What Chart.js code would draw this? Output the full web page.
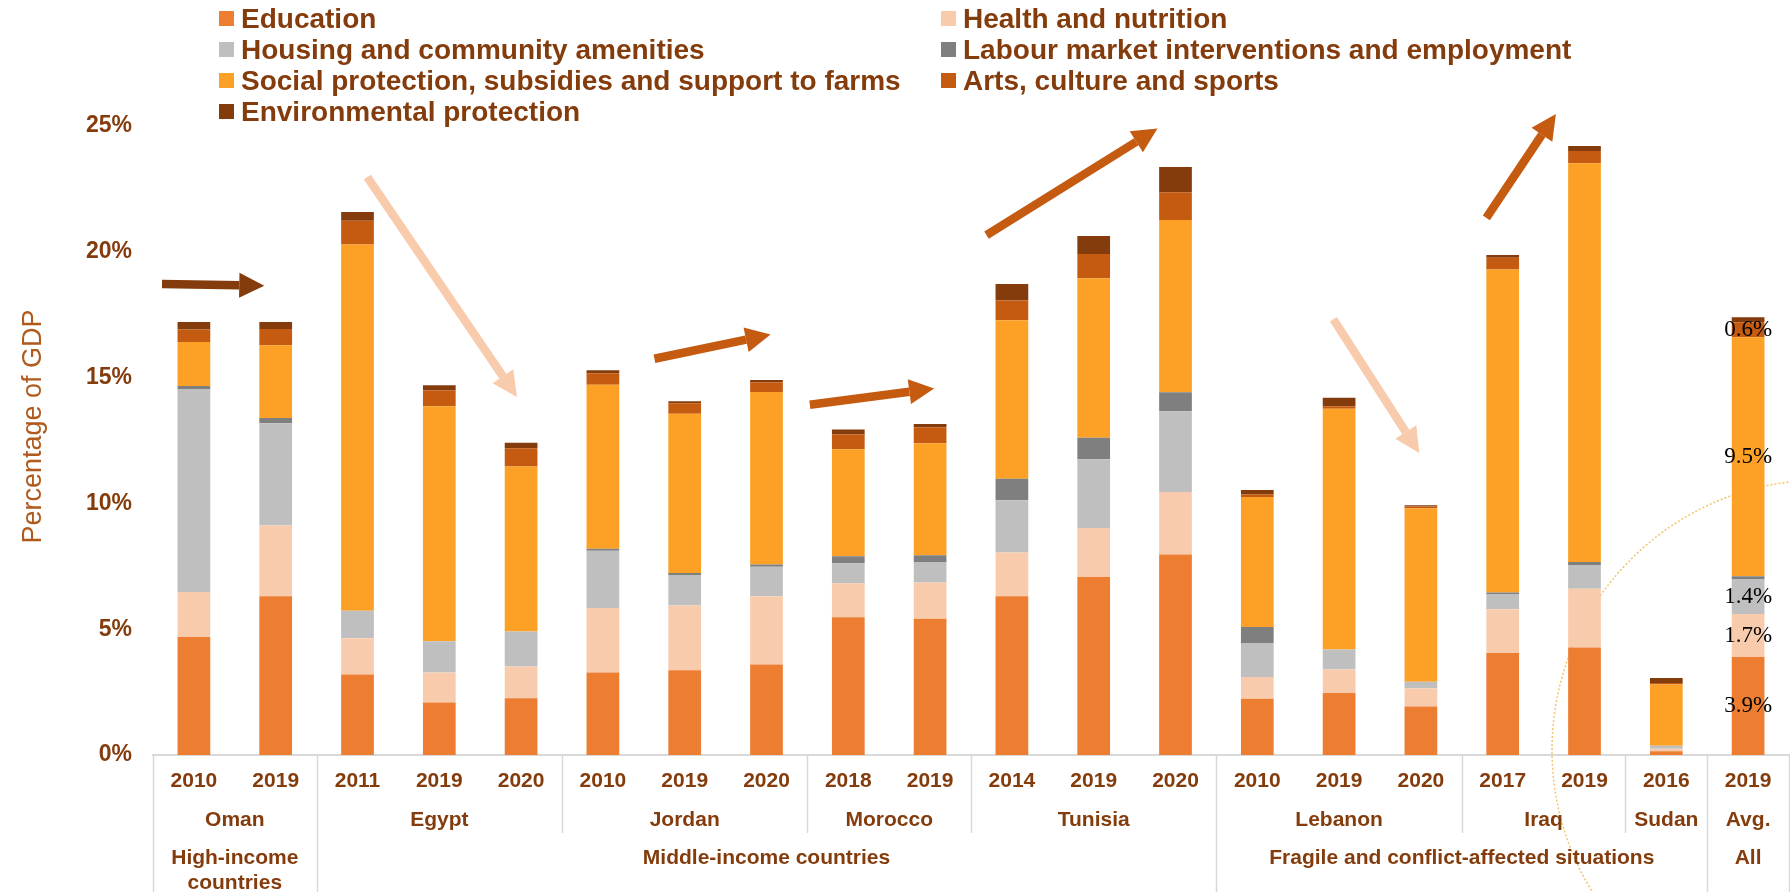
<!DOCTYPE html>
<html>
<head>
<meta charset="utf-8">
<script src="https://cdn.jsdelivr.net/npm/chart.js@4.4.1/dist/chart.umd.min.js"></script>
<style>
  html, body { margin: 0; padding: 0; background: #fff; }
  canvas { display: block; }
</style>
</head>
<body>
<canvas id="chart" width="1790" height="892"></canvas>
<script>
// Categories: one bar per country-year, grouped into countries and income groups
const years = ['2010', '2019', '2011', '2019', '2020', '2010', '2019', '2020', '2018', '2019',
  '2014', '2019', '2020', '2010', '2019', '2020', '2017', '2019', '2016', '2019']
const countries = ['Oman', 'Oman', 'Egypt', 'Egypt', 'Egypt', 'Jordan', 'Jordan', 'Jordan', 'Morocco', 'Morocco',
  'Tunisia', 'Tunisia', 'Tunisia', 'Lebanon', 'Lebanon', 'Lebanon', 'Iraq', 'Iraq', 'Sudan', 'Avg.']
const groups = ['High-income countries', 'High-income countries',
  'Middle-income countries', 'Middle-income countries', 'Middle-income countries', 'Middle-income countries',
  'Middle-income countries', 'Middle-income countries', 'Middle-income countries', 'Middle-income countries',
  'Middle-income countries', 'Middle-income countries', 'Middle-income countries',
  'Fragile and conflict-affected situations', 'Fragile and conflict-affected situations',
  'Fragile and conflict-affected situations', 'Fragile and conflict-affected situations',
  'Fragile and conflict-affected situations', 'Fragile and conflict-affected situations', 'All']

// Spending by function, % of GDP
const education = [4.69, 6.31, 3.20, 2.09, 2.26, 3.28, 3.37, 3.60, 5.47, 5.42, 6.31, 7.07, 7.97, 2.24, 2.46, 1.93, 4.05, 4.27, 0.15, 3.9]
const health = [1.79, 2.81, 1.44, 1.19, 1.26, 2.56, 2.57, 2.71, 1.36, 1.44, 1.74, 1.95, 2.48, 0.86, 0.94, 0.72, 1.74, 2.34, 0.10, 1.7]
const housing = [8.07, 4.07, 1.09, 1.24, 1.39, 2.28, 1.21, 1.17, 0.79, 0.79, 2.08, 2.73, 3.21, 1.35, 0.79, 0.26, 0.61, 0.94, 0.12, 1.4]
const labour = [0.12, 0.20, 0, 0, 0, 0.08, 0.08, 0.09, 0.28, 0.29, 0.85, 0.86, 0.76, 0.64, 0, 0, 0.06, 0.12, 0, 0.1]
const social = [1.74, 2.90, 14.56, 9.34, 6.56, 6.52, 6.33, 6.86, 4.25, 4.45, 6.30, 6.34, 6.84, 5.16, 9.57, 6.90, 12.84, 15.85, 2.43, 9.5]
const arts = [0.50, 0.64, 0.94, 0.64, 0.72, 0.45, 0.42, 0.39, 0.59, 0.64, 0.78, 0.96, 1.11, 0.11, 0.10, 0.07, 0.46, 0.49, 0.06, 0.6]
const environment = [0.30, 0.28, 0.35, 0.20, 0.22, 0.12, 0.08, 0.08, 0.20, 0.13, 0.66, 0.72, 1.00, 0.17, 0.34, 0.05, 0.11, 0.20, 0.20, 0.2]

const seriesNames = ['Education', 'Health and nutrition', 'Housing and community amenities',
  'Labour market interventions and employment', 'Social protection, subsidies and support to farms',
  'Arts, culture and sports', 'Environmental protection']
const seriesValues = [education, health, housing, labour, social, arts, environment]
const seriesColors = ['#ED7D31', '#F8CBAD', '#BFBFBF', '#7F7F7F', '#FCA026', '#C55A11', '#843C0C']
// series whose value is printed on the average bar
const valueSeries = ['Education', 'Health and nutrition', 'Housing and community amenities',
  'Social protection, subsidies and support to farms', 'Arts, culture and sports']
const yTicks = [0, 5, 10, 15, 20, 25]

// Trend arrows, in (category index, % of GDP) units
const trendArrows = [
  { from: [-0.39, 18.72], to: [0.86, 18.65], color: '#843C0C' },
  { from: [2.12, 22.97], to: [3.95, 14.23], color: '#F8CBAD' },
  { from: [5.63, 15.75], to: [7.05, 16.71], color: '#C55A11' },
  { from: [7.53, 13.92], to: [9.05, 14.57], color: '#C55A11' },
  { from: [9.69, 20.66], to: [11.78, 24.90], color: '#C55A11' },
  { from: [13.93, 17.32], to: [14.98, 12.00], color: '#F8CBAD' },
  { from: [15.80, 21.35], to: [16.65, 25.48], color: '#C55A11' }
]

const labelColor = '#843C0C'
const sans = '"Liberation Sans", Arial, sans-serif'

function runs(list) {
  const out = []
  list.forEach((name, i) => {
    const last = out[out.length - 1]
    if (last && last.name === name) last.end = i
    else out.push({ name, start: i, end: i })
  })
  return out
}

function wrapText(ctx, text, maxWidth) {
  const lines = []
  let line = ''
  text.split(' ').forEach(word => {
    const test = line ? line + ' ' + word : word
    if (line && ctx.measureText(test).width > maxWidth) {
      lines.push(line)
      line = word
    } else {
      line = test
    }
  })
  lines.push(line)
  return lines
}

// Two-column legend above the plot
const legendGrid = {
  id: 'legendGrid',
  afterDraw(chart) {
    const { ctx } = chart
    const colX = [219, 941]
    const rowY = [18, 49, 80, 111]
    ctx.save()
    ctx.font = 'bold 28px ' + sans
    ctx.textBaseline = 'middle'
    chart.data.datasets.forEach((ds, i) => {
      const x = colX[i % 2]
      const y = rowY[Math.floor(i / 2)]
      ctx.fillStyle = ds.backgroundColor
      ctx.fillRect(x, y - 7, 15, 15)
      ctx.fillStyle = labelColor
      ctx.fillText(ds.label, x + 22, y + 2)
    })
    ctx.restore()
  }
}

// Rotated y-axis title, a little above the middle of the plot
const yTitle = {
  id: 'yTitle',
  afterDraw(chart) {
    const { ctx, chartArea } = chart
    ctx.save()
    ctx.translate(34, (chartArea.top + chartArea.bottom) / 2 - 14)
    ctx.rotate(-Math.PI / 2)
    ctx.font = '27px ' + sans
    ctx.fillStyle = '#B05A1E'
    ctx.textAlign = 'center'
    ctx.textBaseline = 'middle'
    ctx.fillText('Percentage of GDP', 0, 0)
    ctx.restore()
  }
}

// Country and group rows under the year ticks, with separators
const axisLevels = {
  id: 'axisLevels',
  afterDraw(chart) {
    const { ctx, chartArea, scales: { x } } = chart
    const step = x.getPixelForValue(1) - x.getPixelForValue(0)
    const edge = i => x.getPixelForValue(0) + (i - 0.5) * step
    const top = chartArea.bottom
    const countryRuns = runs(countries)
    const groupRuns = runs(groups)
    const groupEdges = new Set()
    groupRuns.forEach(r => { groupEdges.add(r.start); groupEdges.add(r.end + 1) })

    ctx.save()
    ctx.strokeStyle = '#D9D9D9'
    ctx.lineWidth = 1.5
    const edges = new Set(countryRuns.map(r => r.start).concat([years.length]))
    edges.forEach(i => {
      const px = Math.round(edge(i)) + 0.5
      ctx.beginPath()
      ctx.moveTo(px, top)
      ctx.lineTo(px, groupEdges.has(i) ? chart.height : top + 78)
      ctx.stroke()
    })

    ctx.fillStyle = labelColor
    ctx.font = 'bold 21px ' + sans
    ctx.textAlign = 'center'
    ctx.textBaseline = 'middle'
    countryRuns.forEach(r => {
      ctx.fillText(r.name, (edge(r.start) + edge(r.end + 1)) / 2, top + 65)
    })
    groupRuns.forEach(r => {
      const cx = (edge(r.start) + edge(r.end + 1)) / 2
      const lines = wrapText(ctx, r.name, edge(r.end + 1) - edge(r.start) - 10)
      lines.forEach((l, k) => ctx.fillText(l, cx, top + 103 + k * 25))
    })
    ctx.restore()
  }
}

// Faint dotted ring around the average bar
const highlightRing = {
  id: 'highlightRing',
  beforeDatasetsDraw(chart) {
    const { ctx, chartArea } = chart
    ctx.save()
    ctx.strokeStyle = '#F3C46C'
    ctx.lineWidth = 1.5
    ctx.setLineDash([2, 2])
    ctx.beginPath()
    ctx.arc(chartArea.right + 33, chartArea.bottom - 5, 270, 0, Math.PI * 2)
    ctx.stroke()
    ctx.restore()
  }
}

const arrowLayer = {
  id: 'arrowLayer',
  afterDatasetsDraw(chart) {
    const { ctx, scales: { x, y } } = chart
    const step = x.getPixelForValue(1) - x.getPixelForValue(0)
    const px = i => x.getPixelForValue(0) + i * step
    ctx.save()
    trendArrows.forEach(a => {
      const x0 = px(a.from[0]), y0 = y.getPixelForValue(a.from[1])
      const x1 = px(a.to[0]), y1 = y.getPixelForValue(a.to[1])
      const ang = Math.atan2(y1 - y0, x1 - x0)
      const headLen = 25, headHalf = 12.5
      const bx = x1 - headLen * Math.cos(ang)
      const by = y1 - headLen * Math.sin(ang)
      ctx.strokeStyle = a.color
      ctx.fillStyle = a.color
      ctx.lineWidth = 8.5
      ctx.beginPath()
      ctx.moveTo(x0, y0)
      ctx.lineTo(bx, by)
      ctx.stroke()
      ctx.beginPath()
      ctx.moveTo(x1, y1)
      ctx.lineTo(bx + headHalf * Math.sin(ang), by - headHalf * Math.cos(ang))
      ctx.lineTo(bx - headHalf * Math.sin(ang), by + headHalf * Math.cos(ang))
      ctx.closePath()
      ctx.fill()
    })
    ctx.restore()
  }
}

// Value labels centred in the segments of the last (average) bar
const valueLabels = {
  id: 'valueLabels',
  afterDatasetsDraw(chart) {
    const { ctx } = chart
    const idx = years.length - 1
    ctx.save()
    ctx.font = '23px "Liberation Serif", "Times New Roman", serif'
    ctx.fillStyle = '#000'
    ctx.textAlign = 'center'
    ctx.textBaseline = 'middle'
    chart.data.datasets.forEach((ds, i) => {
      if (!valueSeries.includes(ds.label)) return
      const bar = chart.getDatasetMeta(i).data[idx]
      ctx.fillText(ds.data[idx].toFixed(1) + '%', bar.x, (bar.y + bar.base) / 2)
    })
    ctx.restore()
  }
}

new Chart(document.getElementById('chart'), {
  type: 'bar',
  data: {
    labels: years,
    datasets: seriesNames.map((name, i) => ({
      label: name,
      data: seriesValues[i],
      backgroundColor: seriesColors[i],
      borderWidth: 0,
      categoryPercentage: 1,
      barPercentage: 0.4
    }))
  },
  options: {
    responsive: false,
    animation: false,
    layout: { padding: { top: 126, right: 1, left: 0, bottom: 0 } },
    plugins: {
      legend: { display: false },
      tooltip: { enabled: false }
    },
    scales: {
      x: {
        stacked: true,
        grid: { display: false, drawTicks: false },
        border: { display: true, color: '#D9D9D9', width: 2 },
        ticks: {
          color: labelColor,
          font: { family: sans, size: 21, weight: 'bold' },
          padding: 14,
          maxRotation: 0,
          autoSkip: false
        },
        afterFit(scale) { scale.height = 137 }
      },
      y: {
        stacked: true,
        min: 0,
        max: 25,
        afterBuildTicks(scale) { scale.ticks = yTicks.map(v => ({ value: v })) },
        grid: { display: false, drawTicks: false },
        border: { display: false },
        ticks: {
          color: labelColor,
          font: { family: sans, size: 23, weight: 'bold' },
          padding: 21,
          callback: v => v + '%'
        },
        afterFit(scale) { scale.width = 153 }
      }
    }
  },
  plugins: [highlightRing, arrowLayer, valueLabels, axisLevels, yTitle, legendGrid]
})
</script>
</body>
</html>
